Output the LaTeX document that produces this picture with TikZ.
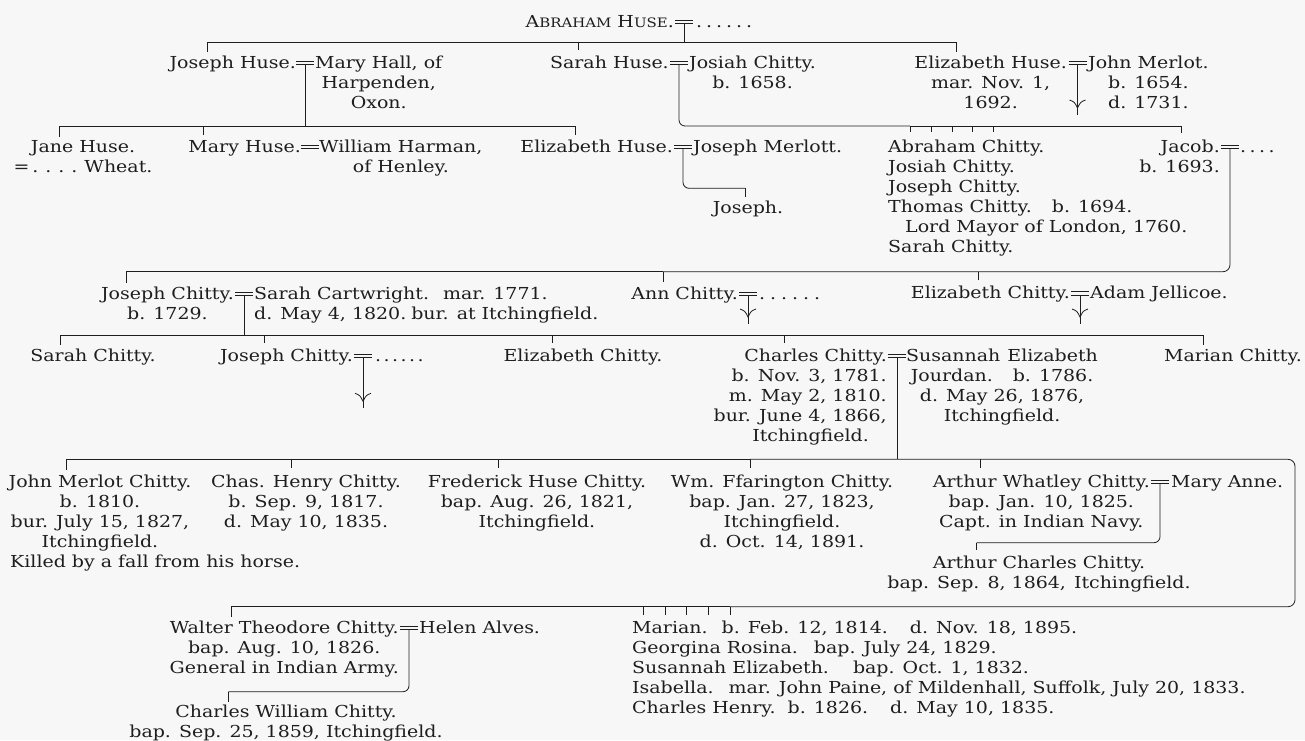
\documentclass[tikz,border=0pt]{standalone}
\usepackage{fontspec}
\setmainfont{DejaVu Serif}[FakeStretch=1.15]
\definecolor{ink}{RGB}{30,30,30}
\definecolor{paper}{RGB}{247,247,247}
\newcommand\dt[1]{\makebox[#1][l]{.}}
\newcommand\txtfont{\fontsize{16.5}{20}\selectfont}
\newcommand\smc[1]{{\fontsize{13}{20}\selectfont #1}}
\tikzset{
  tx/.style={inner sep=0pt,text=ink,font=\txtfont,align=center},
  nlines/.style={yshift={-(#1-1)*20pt}},
  ln/.style={draw=ink,line width=0.8pt},
  eqsign/.pic={\draw[ink,line width=0.8pt] (-9,0)--(9,0) (-9,-3.6)--(9,-3.6);},
  issue/.pic={\draw[ink,line width=0.8pt] (-8,-15) .. controls (-3,-13) .. (0,-7) .. controls (3,-13) .. (8,-15);}
}
\begin{document}
\begin{tikzpicture}[x=1pt,y=-1pt]
\fill[paper] (0,0) rectangle (1305,740);
\useasboundingbox (0,0) rectangle (1305,740);

% ---------- generation 1
\coordinate (mA) at (684,23.8);
\node[tx,anchor=base east] (ah) at (674,27.3) {A\smc{BRAHAM} H\smc{USE}.};
\node[tx,anchor=base west] (ahw) at (696,27.3) {\dt{10pt}\dt{10pt}\dt{10pt}\dt{10pt}\dt{10pt}\dt{10pt}};
\pic at (mA) {eqsign};
\coordinate (L1) at (0,42.7);
\coordinate (tJH) at (207,52);
\coordinate (tSH) at (578,50);
\coordinate (tEH) at (956,52);
\draw[ln] (mA) -- (mA |- L1);
\draw[ln] (tJH) -- (tJH |- L1) -- (tEH |- L1) -- (tEH);
\draw[ln] (tSH) -- (tSH |- L1);

% ---------- generation 2
\coordinate (mJH) at (305,64.5);
\node[tx,anchor=base east] (jh) at (296,68) {Joseph Huse.};
\node[tx,anchor=base west,nlines=3] (mh) at (315,68) {Mary Hall, of\\Harpenden,\\Oxon.};
\pic at (mJH) {eqsign};
\coordinate (mSH) at (679,64.5);
\node[tx,anchor=base east] (sh) at (669,68) {Sarah Huse.};
\node[tx,anchor=base west,nlines=2] (jch) at (689,68) {Josiah Chitty.\\b. 1658.};
\pic at (mSH) {eqsign};
\coordinate (mEH) at (1077.5,64.5);
\node[tx,anchor=base east,nlines=3] (eh) at (1067,68) {Elizabeth Huse.\\mar. Nov. 1,\\1692.};
\node[tx,anchor=base west,nlines=3] (jmer) at (1088,68) {John Merlot.\\b. 1654.\\d. 1731.};
\pic at (mEH) {eqsign};
\coordinate (fEH) at (1077.5,115);
\draw[ln] (mEH) -- (fEH);
\pic at (fEH) {issue};

% Joseph Huse's children
\coordinate (L2) at (0,126.7);
\coordinate (tJa) at (59.3,136.7);
\coordinate (tMa) at (203,135);
\coordinate (tEl) at (575,135);
\draw[ln] (mJH) -- (mJH |- L2);
\draw[ln] (tJa) -- (tJa |- L2) -- (tEl |- L2) -- (tEl);
\draw[ln] (tMa) -- (tMa |- L2);

% Sarah Huse's children
\coordinate (L3) at (0,126);
\coordinate (tAb) at (910,132);
\coordinate (tJs) at (931,132);
\coordinate (tJp) at (952,132);
\coordinate (tTh) at (972,132);
\coordinate (tSa) at (993,132);
\coordinate (tJac) at (1181.7,133.3);
\draw[ln,rounded corners=6pt] (mSH) -- (mSH |- L3) -- (tAb |- L3);
\draw[ln] (tAb |- L3) -- (tJac |- L3) -- (tJac);
\foreach \t in {tAb,tJs,tJp,tTh,tSa} \draw[ln] (\t) -- (\t |- L3);

% ---------- generation 3
\node[tx,anchor=base,nlines=2] (jane) at (83,152) {Jane Huse.\\=\hspace{3pt}\dt{13pt}\dt{13pt}\dt{13pt}\dt{13pt}Wheat.};
\coordinate (mMa) at (310,148.5);
\node[tx,anchor=base east] (mary) at (301,152) {Mary Huse.};
\node[tx,anchor=base west,nlines=2] (wh) at (319,152) {William Harman,\\of Henley.};
\pic at (mMa) {eqsign};
\coordinate (mEl) at (683,148.5);
\node[tx,anchor=base east] (elh) at (673,152) {Elizabeth Huse.};
\node[tx,anchor=base west] (jmt) at (693,152) {Joseph Merlott.};
\pic at (mEl) {eqsign};
\coordinate (L5) at (0,188.3);
\coordinate (tJo) at (745,197);
\node[tx,anchor=base] (jos) at (748,213) {Joseph.};
\draw[ln,rounded corners=6pt] (mEl) -- (mEl |- L5) -- (tJo |- L5);
\draw[ln] (tJo |- L5) -- (tJo);

\node[tx,anchor=base west,align=left,nlines=6] (sch) at (888,152) {Abraham Chitty.\\Josiah Chitty.\\Joseph Chitty.\\Thomas Chitty.\hspace{20pt}b. 1694.\\\hspace{17pt}Lord Mayor of London, 1760.\\Sarah Chitty.};
\coordinate (mJac) at (1230,148.5);
\node[tx,anchor=base east,align=right,nlines=2] (jac) at (1220,152) {Jacob.\\b. 1693.};
\node[tx,anchor=base west] (jacw) at (1240,152) {\dt{9.5pt}\dt{9.5pt}\dt{9.5pt}\dt{9.5pt}};
\pic at (mJac) {eqsign};

% Jacob's children
\coordinate (L6) at (0,271.7);
\coordinate (tJC) at (126.7,283.3);
\coordinate (tAC) at (663,282);
\coordinate (tEC) at (978,280);
\draw[ln,rounded corners=7pt] (mJac) -- (mJac |- L6) -- (tAC |- L6);
\draw[ln] (tAC |- L6) -- (tJC |- L6) -- (tJC);
\draw[ln] (tAC) -- (tAC |- L6);
\draw[ln] (tEC) -- (tEC |- L6);

% ---------- generation 4
\coordinate (mJC) at (244,295.5);
\node[tx,anchor=base east,nlines=2] (jc2) at (234,299) {Joseph Chitty.\\b. 1729.};
\node[tx,anchor=base west,align=left,nlines=2] (sca) at (254,299) {Sarah Cartwright.\hspace{14pt}mar. 1771.\\d. May 4, 1820.\hspace{5pt}bur. at Itchingfield.};
\pic at (mJC) {eqsign};
\coordinate (mAnn) at (748,295.5);
\node[tx,anchor=base east] (ann) at (738,299) {Ann Chitty.};
\node[tx,anchor=base west] (annw) at (759,299) {\dt{11pt}\dt{11pt}\dt{11pt}\dt{11pt}\dt{11pt}\dt{11pt}};
\pic at (mAnn) {eqsign};
\coordinate (fAnn) at (748,324);
\draw[ln] (mAnn) -- (fAnn);
\pic at (fAnn) {issue};
\coordinate (mEC) at (1080,295);
\node[tx,anchor=base east] (ec) at (1070,298.5) {Elizabeth Chitty.};
\node[tx,anchor=base west] (aj) at (1090,298.5) {Adam Jellicoe.};
\pic at (mEC) {eqsign};
\coordinate (fEC) at (1080,324);
\draw[ln] (mEC) -- (fEC);
\pic at (fEC) {issue};

% Joseph Chitty's children
\coordinate (L7) at (0,335);
\coordinate (tSC) at (60,345);
\coordinate (tJ3) at (264.3,343);
\coordinate (tEz) at (552.7,343);
\coordinate (tCh) at (784,343);
\coordinate (tMar) at (1203,345);
\draw[ln] (mJC) -- (mJC |- L7);
\draw[ln] (tSC) -- (tSC |- L7) -- (tMar |- L7) -- (tMar);
\foreach \t in {tJ3,tEz,tCh} \draw[ln] (\t) -- (\t |- L7);

% ---------- generation 5
\node[tx,anchor=base] (sc2) at (93,361) {Sarah Chitty.};
\coordinate (mJ3) at (363,357.5);
\node[tx,anchor=base east] (jc3) at (353,361) {Joseph Chitty.};
\node[tx,anchor=base west] (jc3w) at (375,361) {\dt{8.5pt}\dt{8.5pt}\dt{8.5pt}\dt{8.5pt}\dt{8.5pt}\dt{8.5pt}};
\pic at (mJ3) {eqsign};
\coordinate (fJ3) at (363,408.3);
\draw[ln] (mJ3) -- (fJ3);
\pic at (fJ3) {issue};
\node[tx,anchor=base] (ez3) at (583,361) {Elizabeth Chitty.};
\coordinate (mCh) at (897,357.5);
\node[tx,anchor=base east,align=right,nlines=5] (ch) at (887,361) {Charles Chitty.\\b. Nov. 3, 1781.\\m. May 2, 1810.\\bur. June 4, 1866,\\Itchingfield.\hbox to 18pt{}};
\node[tx,anchor=base west,nlines=4] (sus) at (906,361) {Susannah\hspace{7pt}Elizabeth\\Jourdan.\hspace{20pt}b. 1786.\\d. May 26, 1876,\\Itchingfield.};
\pic at (mCh) {eqsign};
\node[tx,anchor=base east] (mar) at (1302,361) {Marian Chitty.};

% Charles's children
\coordinate (L8) at (0,459.3);
\coordinate (L9) at (0,606.7);
\coordinate (R) at (1295,0);
\coordinate (tJM) at (66.7,470);
\coordinate (tCH) at (291.7,468);
\coordinate (tFH) at (498.3,468);
\coordinate (tWF) at (750,468);
\coordinate (tAW) at (980,468);
\coordinate (tWT) at (231.7,616.7);
\coordinate (tG1) at (643.3,615);
\coordinate (tG2) at (665,615);
\coordinate (tG3) at (686.7,615);
\coordinate (tG4) at (708.3,615);
\coordinate (tG5) at (730,615);
\draw[ln] (mCh) -- (mCh |- L8);
\draw[ln] (tJM) -- (tJM |- L8) -- (tWF |- L8);
\draw[ln,rounded corners=7pt] (tWF |- L8) -- (R |- L8) -- (R |- L9) -- (tG5 |- L9);
\draw[ln] (tG5 |- L9) -- (tWT |- L9) -- (tWT);
\foreach \t in {tCH,tFH,tWF,tAW} \draw[ln] (\t) -- (\t |- L8);
\foreach \t in {tG1,tG2,tG3,tG4,tG5} \draw[ln] (\t) -- (\t |- L9);

% ---------- generation 6
\node[tx,anchor=base,nlines=4] (jmc) at (100,487) {John Merlot Chitty.\\b. 1810.\\bur. July 15, 1827,\\Itchingfield.};
\node[tx,anchor=base west] (jmk) at (10,567) {Killed by a fall from his horse.};
\node[tx,anchor=base,nlines=3] (chh) at (306,487) {Chas. Henry Chitty.\\b. Sep. 9, 1817.\\d. May 10, 1835.};
\node[tx,anchor=base,nlines=3] (fhc) at (537,487) {Frederick Huse Chitty.\\bap. Aug. 26, 1821,\\Itchingfield.};
\node[tx,anchor=base,nlines=4] (wfc) at (782,487) {Wm. Ffarington Chitty.\\bap. Jan. 27, 1823,\\Itchingfield.\\d. Oct. 14, 1891.};
\coordinate (mAW) at (1160,483.5);
\node[tx,anchor=base east,nlines=3] (awc) at (1150,487) {Arthur Whatley Chitty.\\bap. Jan. 10, 1825.\\Capt. in Indian Navy.};
\node[tx,anchor=base west] (ma) at (1171,487) {Mary Anne.};
\pic at (mAW) {eqsign};
\coordinate (L10) at (0,542.7);
\coordinate (tACC) at (976.7,550);
\draw[ln,rounded corners=6pt] (mAW) -- (mAW |- L10) -- (tACC |- L10);
\draw[ln] (tACC |- L10) -- (tACC);
\node[tx,anchor=base,nlines=2] (acc) at (1039,568) {Arthur Charles Chitty.\\bap. Sep. 8, 1864,\hspace{8pt}Itchingfield.};

% ---------- generation 7
\coordinate (mWT) at (409,629.5);
\node[tx,anchor=base east,nlines=3] (wtc) at (399,633) {Walter Theodore Chitty.\\bap. Aug. 10, 1826.\\General in Indian Army.};
\node[tx,anchor=base west] (ha) at (419,633) {Helen Alves.};
\pic at (mWT) {eqsign};
\coordinate (L11) at (0,691.7);
\coordinate (tCW) at (228.3,701.7);
\draw[ln,rounded corners=6pt] (mWT) -- (mWT |- L11) -- (tCW |- L11);
\draw[ln] (tCW |- L11) -- (tCW);
\node[tx,anchor=base,nlines=2] (cwc) at (286,717) {Charles William Chitty.\\bap. Sep. 25, 1859, Itchingfield.};
\node[tx,anchor=base west,align=left,nlines=5] (girls) at (632,633) {Marian.\hspace{14pt}b. Feb. 12, 1814.\hspace{22pt}d. Nov. 18, 1895.\\Georgina Rosina.\hspace{16pt}bap. July 24, 1829.\\Susannah Elizabeth.\hspace{24pt}bap. Oct. 1, 1832.\\Isabella.\hspace{15pt}mar. John Paine, of Mildenhall, Suffolk, July 20, 1833.\\Charles Henry.\hspace{12pt}b. 1826.\hspace{22pt}d. May 10, 1835.};
\end{tikzpicture}
\end{document}
